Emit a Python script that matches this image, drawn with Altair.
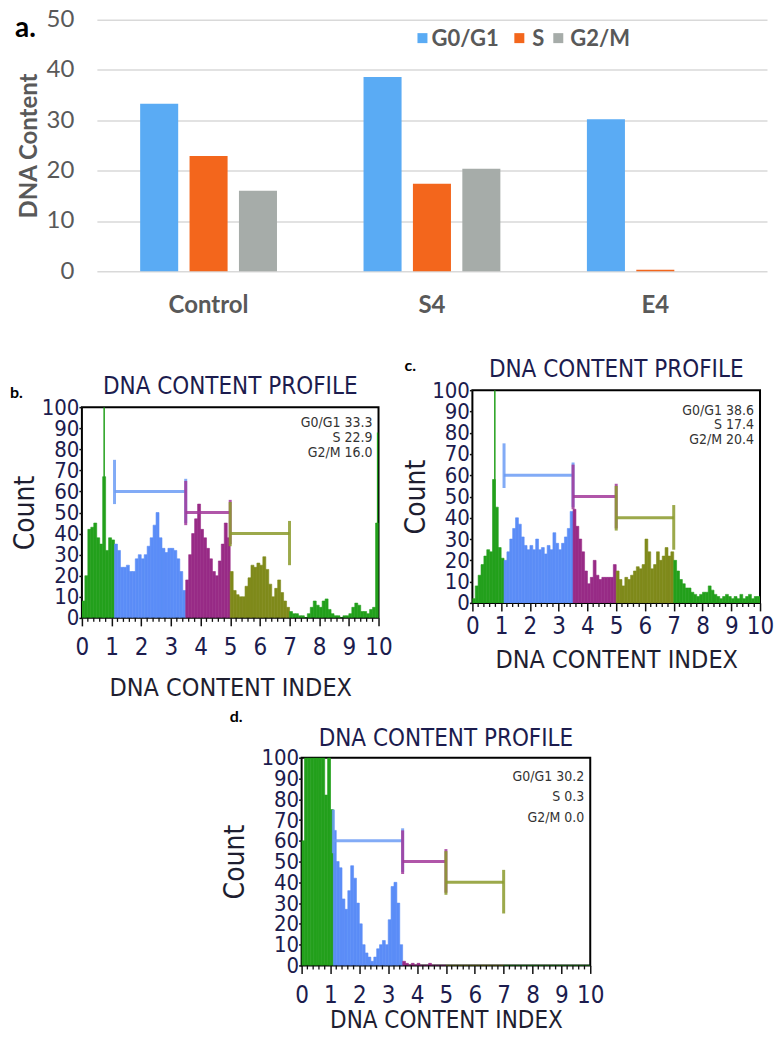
import altair as alt
import pandas as pd

# ---------------- panel a : grouped bars ----------------
groups = ["Control", "S4", "E4"]
phases = ["G0/G1", "S", "G2/M"]
g0g1_values = [33.3, 38.6, 30.2]
s_values = [22.9, 17.4, 0.3]
g2m_values = [16.0, 20.4, 0.0]
phase_colors = ["#5aabf4", "#f3661c", "#a6aca9"]
a_ticks = [0, 10, 20, 30, 40, 50]

# ---------------- panels b-d : DNA content histograms (0.1 wide bins, 0-10) ----------------
bin_width = 0.1
hist_b = [8, 20, 42, 43, 45, 38, 35, 67, 32, 38, 37,
          35, 32, 24, 24, 25, 22, 22, 28, 30, 28, 30, 34, 38, 44, 50, 38, 33, 31, 33, 33, 32, 28, 22, 13,
          18, 30, 40, 47, 54, 42, 38, 33, 28, 22, 20, 27, 35, 45, 38,
          22, 13, 11, 10, 10, 15, 19, 25, 24, 26, 25, 29, 23, 16, 10, 14, 18, 12, 8, 5,
          3, 2, 2, 1, 1, 0, 2, 5, 8, 6, 5, 8, 9, 4, 2, 1, 1, 0, 1, 1, 2, 5, 7, 6, 3, 3, 2, 4, 5, 45]
hist_c = [2, 8, 13, 18, 22, 25, 24, 58, 45, 26, 21,
          20, 24, 30, 35, 40, 37, 31, 27, 25, 27, 25, 30, 25, 26, 23, 27, 25, 33, 28, 25, 28, 31, 35, 43,
          44, 36, 30, 24, 15, 9, 12, 20, 13, 11, 12, 12, 12, 12, 18,
          15, 11, 8, 12, 11, 13, 15, 17, 16, 18, 30, 24, 16, 18, 24, 20, 22, 26, 22, 24,
          20, 15, 11, 9, 7, 7, 5, 4, 3, 4, 5, 5, 8, 6, 4, 3, 2, 3, 4, 3, 2, 3, 2, 4, 2, 3, 4, 2, 3, 3]
hist_d = [60, 100, 100, 100, 100, 100, 100, 100, 82, 100, 75,
          65, 50, 47, 32, 27, 36, 48, 42, 30, 20, 10, 6, 4, 2, 4, 8, 10, 12, 10, 22, 38, 40, 30, 10,
          2, 1, 0, 1, 0, 1, 0, 0, 0, 1, 0, 0, 0, 0, 0,
          0, 0, 0, 0, 0, 0, 0, 0, 0, 0, 0, 0, 0, 0, 0, 0, 0, 0, 0, 0,
          0, 0, 0, 0, 0, 0, 0, 0, 0, 0, 0, 0, 0, 0, 0, 0, 0, 0, 0, 0, 0, 0, 0, 0, 0, 0, 0, 0, 0, 0]
spike_b_x = [0.75, 9.97]
spike_b_y = [100, 88]
spike_c_x = [0.78]
spike_c_y = [100]
spike_d_x = [0.97]
spike_d_y = [100]
notes_b = ["G0/G1 33.3", "S 22.9", "G2/M 16.0"]
notes_c = ["G0/G1 38.6", "S 17.4", "G2/M 20.4"]
notes_d = ["G0/G1 30.2", "S 0.3", "G2/M 0.0"]
hist_title = "DNA CONTENT PROFILE"

gate_edges = [1.1, 3.5, 5.0, 7.0]
gate_levels = [60, 50, 40]
gate_names = ["blue gate", "purple gate", "olive gate"]
gate_colors = ["#6c9cf5", "#a2389a", "#8b9a2b"]
region_names = ["below", "first", "second", "third", "above"]
region_colors = ["#23a01c", "#5b8df7", "#982b86", "#7f8a1b", "#23a01c"]
y_hist_ticks = [0, 10, 20, 30, 40, 50, 60, 70, 80, 90, 100]
x_hist_ticks = [0, 1, 2, 3, 4, 5, 6, 7, 8, 9, 10]
x_minor_ticks = [round(i * 0.2, 1) for i in range(51) if i % 5 != 0]

FONT_A = "Lato"
FONT_H = "Liberation Sans Narrow, Arial Narrow, DejaVu Sans Condensed, Liberation Sans, sans-serif"
GREY_TXT = "#595959"
NAVY = "#1c1c4e"
DARK = "#1e1e30"


def spacer(w, h):
    return alt.Chart(pd.DataFrame({"v": [0]})).mark_point(size=1, opacity=0).encode(
        x=alt.X("v:Q", axis=None), y=alt.Y("v:Q", axis=None)
    ).properties(width=w, height=h, view=alt.ViewBackground(stroke="transparent"))


# ---------------- panel a ----------------
rows_a = []
for ph, vals in zip(phases, [g0g1_values, s_values, g2m_values]):
    for g, v in zip(groups, vals):
        rows_a.append({"group": g, "phase": ph, "value": v})
df_a = pd.DataFrame(rows_a)

bars_a = alt.Chart(df_a).mark_bar().encode(
    x=alt.X("group:N", sort=groups, scale=alt.Scale(paddingInner=0, paddingOuter=0),
            axis=alt.Axis(title=None, domain=False, ticks=False, labelAngle=0, labelFont=FONT_A,
                          labelFontSize=24, labelFontWeight="bold", labelColor=GREY_TXT, labelPadding=22)),
    xOffset=alt.XOffset("phase:N", sort=phases, scale=alt.Scale(paddingInner=0.23, paddingOuter=0.876)),
    y=alt.Y("value:Q", scale=alt.Scale(domain=[0, 50], nice=False),
            axis=alt.Axis(values=a_ticks, grid=True, gridColor="#d9d9d9", gridWidth=1.5, domain=False,
                          ticks=False, labelFont=FONT_A, labelFontSize=24, labelColor=GREY_TXT,
                          labelPadding=23, title="DNA Content", titleFont=FONT_A, titleFontSize=24,
                          titleFontWeight="bold", titleColor=GREY_TXT, titlePadding=5)),
    color=alt.Color("phase:N", sort=phases, scale=alt.Scale(domain=phases, range=phase_colors),
                    legend=None),
)
letter_a = alt.Chart(pd.DataFrame({"t": ["a."]})).mark_text(
    font=FONT_A, fontSize=28, fontWeight="bold", color="#000000", align="left", baseline="alphabetic"
).encode(x=alt.value(-82), y=alt.value(17), text="t:N")

# legend drawn as a key: square + label for each phase
legend_layers = []
for ph, col, sq_x, tx_x in zip(phases, phase_colors, [326, 423, 462], [335, 436, 474]):
    legend_layers.append(alt.Chart(pd.DataFrame({"t": [ph]})).mark_square(
        size=100, color=col, opacity=1
    ).encode(x=alt.value(sq_x), y=alt.value(18.5)))
    legend_layers.append(alt.Chart(pd.DataFrame({"t": [ph]})).mark_text(
        font=FONT_A, fontSize=22, fontWeight="bold", color=GREY_TXT, align="left", baseline="middle"
    ).encode(x=alt.value(tx_x), y=alt.value(19), text="t:N"))

chart_a = alt.layer(bars_a, letter_a, *legend_layers).properties(width=671, height=252)


# ---------------- histogram panels ----------------
def region_of(x0):
    for i, e in enumerate(gate_edges):
        if x0 < e - 1e-9:
            return region_names[i]
    return region_names[-1]


def hist_panel(counts, sx, sy, notes, p):
    assert len(counts) == 100
    w, h = p["w"], p["h"]
    df = pd.DataFrame({
        "x0": [round(k * bin_width, 2) for k in range(len(counts))],
        "x1": [round((k + 1) * bin_width, 2) for k in range(len(counts))],
        "count": counts,
    })
    df["region"] = [region_of(v) for v in df["x0"]]

    gate_rows = []
    for i, name in enumerate(gate_names):
        lo, hi, lev = gate_edges[i], gate_edges[i + 1], gate_levels[i]
        gate_rows.append({"gate": name, "x0": lo, "xb": hi, "count": lev, "yb": lev})
        gate_rows.append({"gate": name, "x0": lo, "xb": lo, "count": lev - 6, "yb": lev + 15})
        gate_rows.append({"gate": name, "x0": hi, "xb": hi, "count": lev - 15, "yb": lev + 6})
    gdf = pd.DataFrame(gate_rows)

    xscale = alt.Scale(domain=[0, 10], nice=False, zero=False)
    yscale = alt.Scale(domain=[0, 100], nice=False)
    xaxis = alt.Axis(values=x_hist_ticks, format="d", tickSize=8, tickColor="#111111", tickWidth=1.5,
                     domain=False, grid=False, labelFont=FONT_H, labelFontSize=24, labelColor=NAVY,
                     labelPadding=p["xlp"], labelOverlap=False, labelFlush=False,
                     title="DNA CONTENT INDEX", titleFont=FONT_H, titleFontSize=p["xtf"],
                     titleFontWeight="normal", titleColor=DARK, titlePadding=p["xtp"])
    yaxis = alt.Axis(values=y_hist_ticks, format="d", labelOverlap=False, labelFont=FONT_H,
                     labelFontSize=22, labelColor=NAVY, labelPadding=0, tickSize=3, tickColor="#111111",
                     tickWidth=1.5, domain=False, grid=False, title="Count", titleFont=FONT_H,
                     titleFontSize=28, titleFontWeight="normal", titleColor=DARK, titlePadding=p["ytp"])

    bars = alt.Chart(df).mark_bar(clip=True, strokeWidth=0.6).encode(
        x=alt.X("x0:Q", scale=xscale, axis=xaxis),
        x2="x1:Q",
        y=alt.Y("count:Q", scale=yscale, axis=yaxis),
        y2=alt.datum(0),
        color=alt.Color("region:N", scale=alt.Scale(domain=region_names, range=region_colors), legend=None),
        stroke=alt.Stroke("region:N", scale=alt.Scale(domain=region_names, range=region_colors), legend=None),
    )
    spikes = alt.Chart(pd.DataFrame({"x0": sx, "count": sy})).mark_rule(
        color=region_colors[0], strokeWidth=1.5, clip=True
    ).encode(
        x=alt.X("x0:Q", scale=xscale, axis=xaxis),
        y=alt.Y("count:Q", scale=yscale, axis=yaxis),
        y2=alt.datum(0),
    )
    minor = alt.Chart(pd.DataFrame({"x0": x_minor_ticks})).mark_rule(
        color="#111111", strokeWidth=1.3
    ).encode(
        x=alt.X("x0:Q", scale=xscale, axis=xaxis),
        y=alt.value(h), y2=alt.value(h + 4),
    )
    gates = alt.Chart(gdf).mark_rule(strokeWidth=3, opacity=0.85).encode(
        x=alt.X("x0:Q", scale=xscale, axis=xaxis), x2="xb:Q",
        y=alt.Y("count:Q", scale=yscale, axis=yaxis), y2="yb:Q",
        color=alt.Color("gate:N", scale=alt.Scale(domain=gate_names, range=gate_colors), legend=None),
    )
    layers = [bars, spikes, minor, gates]
    for t, yy in zip(notes, p["notes_y"]):
        layers.append(alt.Chart(pd.DataFrame({"t": [t]})).mark_text(
            align="right", baseline="middle", font=FONT_H, fontSize=14, color="#333333"
        ).encode(x=alt.value(w - 6), y=alt.value(yy), text="t:N"))
    lt, lx, ly = p["letter"]
    layers.append(alt.Chart(pd.DataFrame({"t": [lt]})).mark_text(
        align="left", baseline="middle", font=FONT_A, fontSize=16, fontWeight="bold", color="#000000"
    ).encode(x=alt.value(lx), y=alt.value(ly), text="t:N"))
    layers.append(alt.Chart(pd.DataFrame({"t": [hist_title]})).mark_text(
        align="center", baseline="alphabetic", font=FONT_H, fontSize=24, color=NAVY
    ).encode(x=alt.value(w / 2), y=alt.value(p["ty"]), text="t:N"))

    return alt.layer(*layers).properties(
        width=w, height=h,
        view=alt.ViewBackground(stroke="#000000", strokeWidth=2),
    ).resolve_scale(color="independent", stroke="independent")


p_b = dict(w=297, h=211, ty=-13, xlp=10, xtp=16, xtf=25, ytp=2, letter=("b.", -72, -14), notes_y=[16, 31, 46])
p_c = dict(w=288, h=213, ty=-13, xlp=4, xtp=9, xtf=25, ytp=1, letter=("c.", -68, -24), notes_y=[21, 35, 50])
p_d = dict(w=289, h=208, ty=-12, xlp=10, xtp=1, xtf=24, ytp=11, letter=("d.", -72, -41), notes_y=[19, 39, 60])

chart_b = hist_panel(hist_b, spike_b_x, spike_b_y, notes_b, p_b)
chart_c = hist_panel(hist_c, spike_c_x, spike_c_y, notes_c, p_c)
chart_d = hist_panel(hist_d, spike_d_x, spike_d_y, notes_d, p_d)

# layout: every row starts with an empty spacer so the rows' origins line up at the page's left edge
row_1 = alt.concat(spacer(7, 1), chart_a, columns=2, align="none", spacing=0)
group_b = alt.concat(spacer(1, 57), chart_b, columns=1, align="none", spacing=0)
group_c = alt.concat(spacer(1, 40), chart_c, columns=1, align="none", spacing=0)
pair_bc = alt.concat(group_b, group_c, columns=2, align="none", spacing=8)
row_2 = alt.concat(spacer(1, 1), pair_bc, columns=2, align="none", spacing=0)
group_d = alt.concat(spacer(1, 6), chart_d, columns=1, align="none", spacing=0)
row_3 = alt.concat(spacer(213, 1), group_d, columns=2, align="none", spacing=0)

chart = alt.concat(row_1, row_2, row_3, columns=1, align="none", spacing=0).properties(
    padding={"top": -1, "left": 0, "right": 0, "bottom": 0}
).configure_view(strokeWidth=0)

chart.save("out.html", embed_options={"renderer": "svg", "actions": False})
